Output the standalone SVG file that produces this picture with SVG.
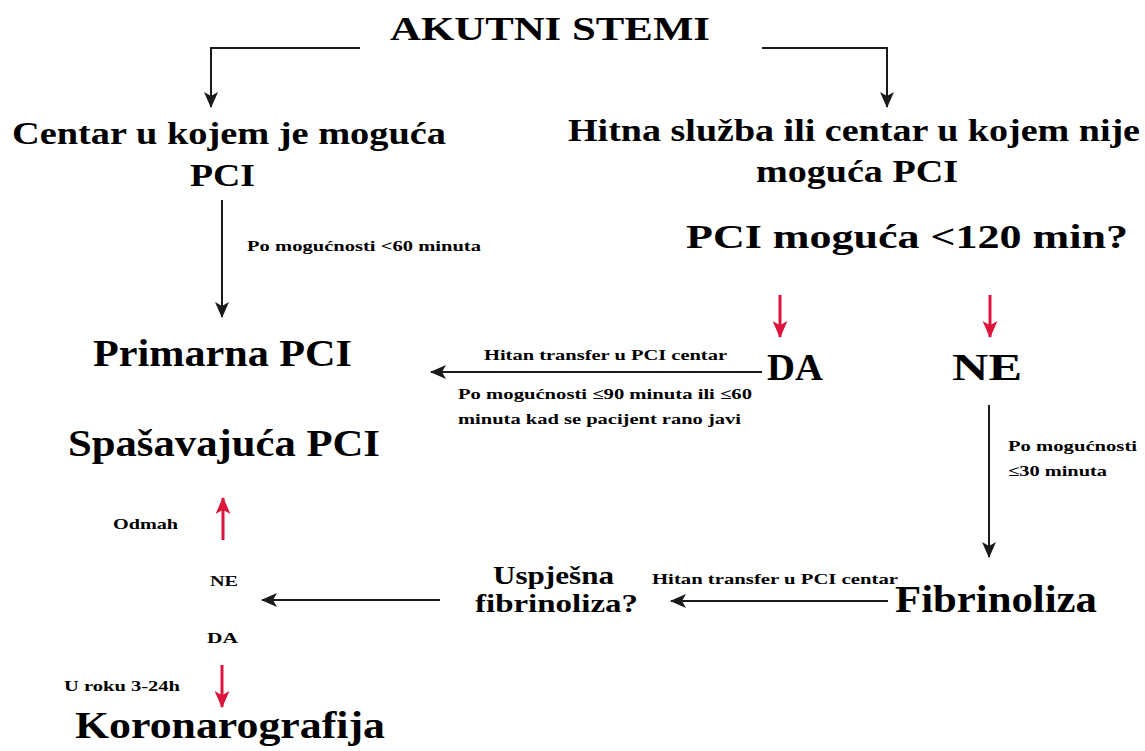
<svg xmlns="http://www.w3.org/2000/svg" width="1145" height="751" viewBox="0 0 1145 751">
<style>
text{font-family:"Liberation Serif","Times New Roman",serif;font-weight:bold;fill:#000}
.big{font-size:37px}
.mid{font-size:34px}
.q{font-size:32px}
.u{font-size:26px}
.sm{font-size:15px}
.xs{font-size:14px}
.blk{stroke:#1a1a1a;stroke-width:2;fill:none}
.red{stroke:#dc143c;stroke-width:3;fill:none}
</style>
<defs>
<marker id="ab" viewBox="0 0 16 14" refX="15" refY="7" markerWidth="16" markerHeight="14" markerUnits="userSpaceOnUse" orient="auto">
<path d="M0,0 L16,7 L0,14 L4,7 Z" fill="#1a1a1a"/>
</marker>
<marker id="ar" viewBox="0 0 16 14" refX="15" refY="7" markerWidth="17" markerHeight="15" markerUnits="userSpaceOnUse" orient="auto">
<path d="M0,0 L16,7 L0,14 L4,7 Z" fill="#dc143c"/>
</marker>
</defs>
<rect width="1145" height="751" fill="#fff"/>
<g id="connectors">
<path class="blk" d="M360,48 H211 V107" marker-end="url(#ab)"/>
<path class="blk" d="M762,48 H887 V107" marker-end="url(#ab)"/>
<path class="blk" d="M222,200 V317" marker-end="url(#ab)"/>
<path class="blk" d="M762,372 H431" marker-end="url(#ab)"/>
<path class="blk" d="M989,405 V557" marker-end="url(#ab)"/>
<path class="blk" d="M888,601 H671" marker-end="url(#ab)"/>
<path class="blk" d="M440,600 H262" marker-end="url(#ab)"/>
<path class="red" d="M780,295 V337" marker-end="url(#ar)"/>
<path class="red" d="M990,295 V337" marker-end="url(#ar)"/>
<path class="red" d="M223,540 V498" marker-end="url(#ar)"/>
<path class="red" d="M222,665 V707" marker-end="url(#ar)"/>
</g>
<g id="n-stemi"><text class="mid" x="390" y="40" textLength="320" lengthAdjust="spacingAndGlyphs">AKUTNI STEMI</text></g>
<g id="n-centar">
<text class="q" x="12" y="144" textLength="434" lengthAdjust="spacingAndGlyphs">Centar u kojem je moguća</text>
<text class="q" x="190" y="186" textLength="65" lengthAdjust="spacingAndGlyphs">PCI</text>
</g>
<g id="n-hitna">
<text class="q" x="568" y="141" textLength="572" lengthAdjust="spacingAndGlyphs">Hitna služba ili centar u kojem nije</text>
<text class="q" x="756" y="182" textLength="202" lengthAdjust="spacingAndGlyphs">moguća PCI</text>
</g>
<g id="n-q120"><text class="mid" x="686" y="248" textLength="442" lengthAdjust="spacingAndGlyphs">PCI moguća &lt;120 min?</text></g>
<g id="n-da"><text class="big" x="767" y="380" textLength="56" lengthAdjust="spacingAndGlyphs">DA</text></g>
<g id="n-ne"><text class="big" x="952" y="380" textLength="70" lengthAdjust="spacingAndGlyphs">NE</text></g>
<g id="n-primarna"><text class="big" x="93" y="366" textLength="259" lengthAdjust="spacingAndGlyphs">Primarna PCI</text></g>
<g id="n-spasavajuca"><text class="big" x="68" y="456" textLength="312" lengthAdjust="spacingAndGlyphs">Spašavajuća PCI</text></g>
<g id="n-fibrinoliza"><text class="big" x="895" y="612" textLength="202" lengthAdjust="spacingAndGlyphs">Fibrinoliza</text></g>
<g id="n-uspjesna">
<text class="u" x="493" y="584" textLength="121" lengthAdjust="spacingAndGlyphs">Uspješna</text>
<text class="u" x="475" y="612" textLength="163" lengthAdjust="spacingAndGlyphs">fibrinoliza?</text>
</g>
<g id="n-ne2"><text class="xs" x="210" y="586" textLength="28" lengthAdjust="spacingAndGlyphs">NE</text></g>
<g id="n-da2"><text class="xs" x="207" y="643" textLength="31" lengthAdjust="spacingAndGlyphs">DA</text></g>
<g id="n-koronarografija"><text class="big" x="75" y="738" textLength="310" lengthAdjust="spacingAndGlyphs">Koronarografija</text></g>
<g id="labels">
<text class="sm" x="247" y="251" textLength="234" lengthAdjust="spacingAndGlyphs">Po mogućnosti &lt;60 minuta</text>
<text class="sm" x="484" y="360" textLength="243" lengthAdjust="spacingAndGlyphs">Hitan transfer u PCI centar</text>
<text class="sm" x="458" y="399" textLength="294" lengthAdjust="spacingAndGlyphs">Po mogućnosti ≤90 minuta ili ≤60</text>
<text class="sm" x="458" y="424" textLength="283" lengthAdjust="spacingAndGlyphs">minuta kad se pacijent rano javi</text>
<text class="sm" x="1008" y="451" textLength="129" lengthAdjust="spacingAndGlyphs">Po mogućnosti</text>
<text class="sm" x="1008" y="476" textLength="99" lengthAdjust="spacingAndGlyphs">≤30 minuta</text>
<text class="sm" x="652" y="584" textLength="246" lengthAdjust="spacingAndGlyphs">Hitan transfer u PCI centar</text>
<text class="xs" x="113" y="529" textLength="65" lengthAdjust="spacingAndGlyphs">Odmah</text>
<text class="xs" x="64" y="691" textLength="116" lengthAdjust="spacingAndGlyphs">U roku 3-24h</text>
</g>
</svg>
